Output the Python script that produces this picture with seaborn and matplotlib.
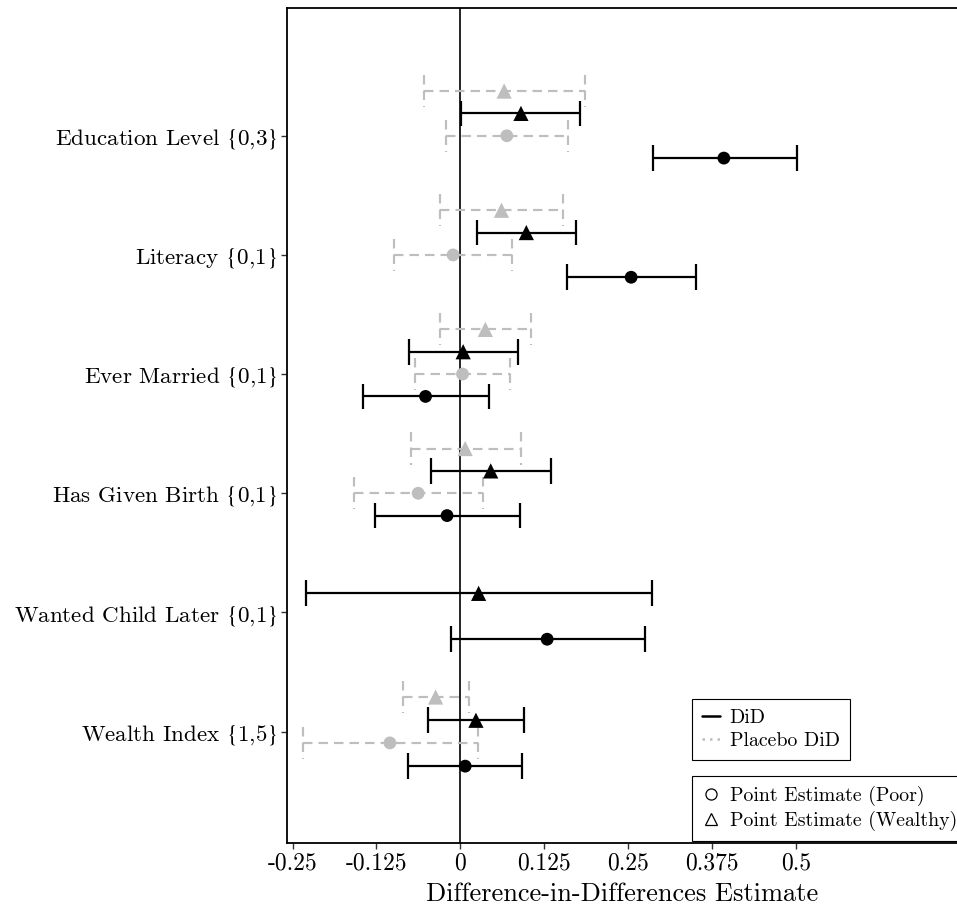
import numpy as np
import pandas as pd
import matplotlib
matplotlib.use("Agg")
import matplotlib.pyplot as plt
from matplotlib.lines import Line2D
import seaborn as sns

# Outcomes (top to bottom)
outcomes = [
    "Education Level $\\{$0,3$\\}$",
    "Literacy $\\{$0,1$\\}$",
    "Ever Married $\\{$0,1$\\}$",
    "Has Given Birth $\\{$0,1$\\}$",
    "Wanted Child Later $\\{$0,1$\\}$",
    "Wealth Index $\\{$1,5$\\}$",
]

# DiD estimates, poor households
did_poor_est = [0.392, 0.254, -0.052, -0.020, 0.129, 0.007]
did_poor_lo = [0.286, 0.158, -0.145, -0.127, -0.014, -0.078]
did_poor_hi = [0.501, 0.350, 0.043, 0.088, 0.274, 0.092]

# DiD estimates, wealthy households
did_wealthy_est = [0.090, 0.098, 0.004, 0.045, 0.027, 0.023]
did_wealthy_lo = [0.001, 0.024, -0.076, -0.044, -0.230, -0.048]
did_wealthy_hi = [0.178, 0.172, 0.085, 0.134, 0.285, 0.095]

# Placebo DiD estimates, poor households (none for wanted child)
placebo_poor_est = [0.069, -0.011, 0.003, -0.063, np.nan, -0.105]
placebo_poor_lo = [-0.022, -0.099, -0.067, -0.158, np.nan, -0.235]
placebo_poor_hi = [0.160, 0.077, 0.074, 0.033, np.nan, 0.026]

# Placebo DiD estimates, wealthy households
placebo_wealthy_est = [0.065, 0.061, 0.037, 0.007, np.nan, -0.037]
placebo_wealthy_lo = [-0.054, -0.031, -0.031, -0.073, np.nan, -0.085]
placebo_wealthy_hi = [0.186, 0.153, 0.105, 0.090, np.nan, 0.012]

x_ticks = [-0.25, -0.125, 0, 0.125, 0.25, 0.375, 0.5]
x_tick_labels = ["-0.25", "-0.125", "0", "0.125", "0.25", "0.375", "0.5"]

# dodge offsets of each series within each outcome row
dodge = {
    ("Placebo", "Wealthy"): [-0.375, -0.375, -0.375, -0.375, 0.0, -0.29],
    ("DiD", "Wealthy"): [-0.1875, -0.1875, -0.1875, -0.1875, -0.16, -0.095],
    ("Placebo", "Poor"): [0.0, 0.0, 0.0, 0.0, 0.0, 0.095],
    ("DiD", "Poor"): [0.1875, 0.1875, 0.1875, 0.1875, 0.225, 0.29],
}

frames = []
for (kind, group), est, lo, hi in [
    (("Placebo", "Wealthy"), placebo_wealthy_est, placebo_wealthy_lo, placebo_wealthy_hi),
    (("DiD", "Wealthy"), did_wealthy_est, did_wealthy_lo, did_wealthy_hi),
    (("Placebo", "Poor"), placebo_poor_est, placebo_poor_lo, placebo_poor_hi),
    (("DiD", "Poor"), did_poor_est, did_poor_lo, did_poor_hi),
]:
    rows = np.arange(len(outcomes))
    frames.append(pd.DataFrame({
        "outcome": outcomes,
        "row": rows,
        "kind": kind,
        "group": group,
        "est": est,
        "lo": lo,
        "hi": hi,
        "y": rows + np.array(dodge[(kind, group)]),
    }))
df = pd.concat(frames, ignore_index=True).dropna()

sns.set_theme(style="white")
plt.rcParams["font.family"] = ["cmr10", "DejaVu Serif"]
plt.rcParams["mathtext.fontset"] = "stix"
plt.rcParams["axes.formatter.use_mathtext"] = True
plt.rcParams["text.color"] = "black"

W, H = 957, 910
fig = plt.figure(figsize=(W / 100, H / 100), dpi=100)
ax = fig.add_axes([287 / W, 1 - 843 / H, 1 - 287 / W, (843 - 8) / H])

GRAY = "#bebebe"
ax.axvline(0, color="black", lw=1.2, zorder=1)

styles = {
    "Placebo": dict(color=GRAY, ls=(0, (4.4, 2.8)), lw=1.55, cap=0.135),
    "DiD": dict(color="black", ls="-", lw=1.6, cap=0.108),
}
for kind in ["Placebo", "DiD"]:
    sub = df[df["kind"] == kind]
    st = styles[kind]
    ax.hlines(sub["y"], sub["lo"], sub["hi"], colors=st["color"],
              linestyles=st["ls"], lw=st["lw"], zorder=2)
    for col in ["lo", "hi"]:
        ax.vlines(sub[col], sub["y"] - st["cap"], sub["y"] + st["cap"],
                  colors=st["color"], linestyles=st["ls"], lw=st["lw"], zorder=2)

df["series"] = df["kind"] + " " + df["group"]
palette = {"Placebo Wealthy": GRAY, "Placebo Poor": GRAY,
           "DiD Wealthy": "black", "DiD Poor": "black"}
sns.scatterplot(data=df, x="est", y="y", hue="series", palette=palette,
                style="group", markers={"Poor": "o", "Wealthy": "^"},
                size="group", sizes={"Poor": 85, "Wealthy": 120},
                linewidth=0, legend=False, ax=ax, zorder=3)

ax.set_xlim(-0.2582, 0.739)
ax.set_ylim(5.935, -1.072)
ax.set_xticks(x_ticks)
ax.set_xticklabels(x_tick_labels, fontsize=17)
ax.set_yticks(range(len(outcomes)))
ax.set_yticklabels(outcomes, fontsize=16.6)
ax.set_xlabel("Difference-in-Differences Estimate", fontsize=19, labelpad=5,
              color="black")
ax.set_ylabel("")
ax.tick_params(axis="both", direction="out", length=4, width=1, color="#333333",
               labelcolor="black", bottom=True, left=True, pad=3)
for side in ["left", "bottom", "top"]:
    ax.spines[side].set_visible(True)
    ax.spines[side].set_color("black")
    ax.spines[side].set_linewidth(1.3)
ax.spines["right"].set_visible(False)
ax.grid(False)

# line-type legend
line_handles = [
    Line2D([], [], color="black", lw=1.8, ls="-"),
    Line2D([], [], color=GRAY, lw=1.8, ls=(0, (1, 2))),
]
leg_kw = dict(loc="upper left", bbox_transform=fig.transFigure, borderaxespad=0,
              fontsize=14.3, frameon=True, fancybox=False, edgecolor="black",
              framealpha=1, handlelength=0.9, handletextpad=0.5,
              labelspacing=0.25, borderpad=0.5)
leg1 = ax.legend(line_handles, ["DiD", "Placebo DiD"],
                 bbox_to_anchor=(692 / W, 1 - 699 / H), **leg_kw)
leg1.get_frame().set_linewidth(0.8)
ax.add_artist(leg1)

# marker-shape legend
marker_handles = [
    Line2D([], [], ls="none", marker="o", markersize=8, markerfacecolor="none",
           markeredgecolor="black", markeredgewidth=0.9),
    Line2D([], [], ls="none", marker="^", markersize=9, markerfacecolor="none",
           markeredgecolor="black", markeredgewidth=0.9),
]
leg2 = ax.legend(marker_handles, ["Point Estimate (Poor)", "Point Estimate (Wealthy)"],
                 bbox_to_anchor=(692 / W, 1 - 776 / H), **leg_kw)
leg2.get_frame().set_linewidth(0.8)
for leg in (leg1, leg2):
    for t in leg.get_texts():
        t.set_color("black")

fig.savefig("out.png", dpi=100)
